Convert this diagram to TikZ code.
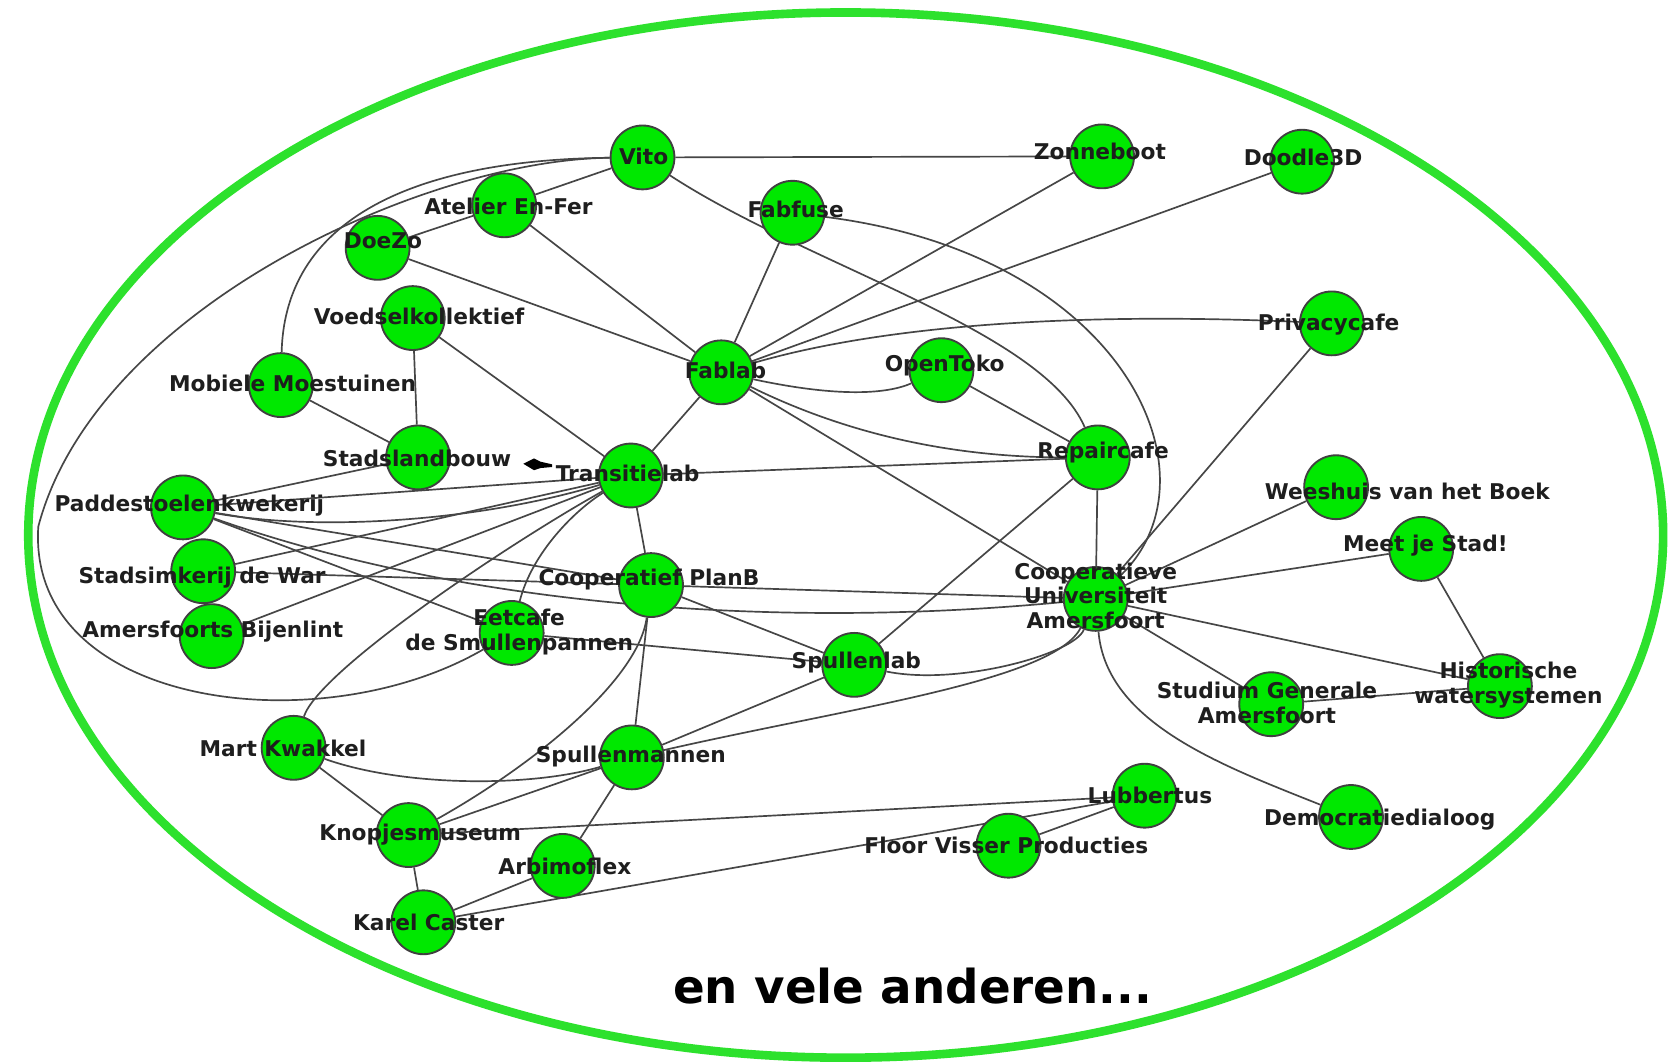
\documentclass[tikz,border=0pt]{standalone}
\usepackage{fontspec}
\setmainfont{DejaVu Sans}
\usetikzlibrary{arrows.meta}
\pgfdeclarelayer{bg}
\pgfsetlayers{bg,main}
\definecolor{nodegreen}{RGB}{0,232,0}
\definecolor{ringgreen}{RGB}{45,225,45}
\definecolor{edgegray}{RGB}{70,70,70}
\definecolor{txt}{RGB}{30,30,30}
\begin{document}
\begin{tikzpicture}[x=0.01cm,y=-0.01cm,
  org/.style={circle,draw=black!75,line width=0.5pt,fill=nodegreen,minimum size=0.6cm,inner sep=0pt},
  lbl/.style={font=\fontsize{5.8}{6.6}\selectfont\bfseries,text=txt,inner sep=0pt,align=center},
  link/.style={draw=edgegray,line width=0.45pt}]
\useasboundingbox (0,0) rectangle (1568,1000);

% nodes
\node[org] (vito) at (604,148) {};
\node[org] (zonne) at (1036,147) {};
\node[org] (doodle) at (1224,152) {};
\node[org] (atelier) at (474,193) {};
\node[org] (fabfuse) at (745,200) {};
\node[org] (doezo) at (355,233) {};
\node[org] (voedsel) at (388,299) {};
\node[org] (mobiele) at (264,362) {};
\node[org] (fablab) at (678,350) {};
\node[org] (opentoko) at (885,348) {};
\node[org] (privacy) at (1252,304) {};
\node[org] (stadsl) at (393,430) {};
\node[org] (transitie) at (593,447) {};
\node[org] (repair) at (1032,430) {};
\node[org] (weeshuis) at (1256,458) {};
\node[org] (padd) at (172,477) {};
\node[org] (meet) at (1336,516) {};
\node[org] (stadsimk) at (191,537) {};
\node[org] (planb) at (612,550) {};
\node[org] (cu) at (1030,563) {};
\node[org] (bijenlint) at (199,598) {};
\node[org] (eetcafe) at (481,595) {};
\node[org] (spullenlab) at (803,625) {};
\node[org] (histo) at (1410,645) {};
\node[org] (studium) at (1195,662) {};
\node[org] (mart) at (276,703) {};
\node[org] (spullenm) at (594,712) {};
\node[org] (lubbertus) at (1076,748) {};
\node[org] (democr) at (1270,768) {};
\node[org] (knopjes) at (384,785) {};
\node[org] (floor) at (948,795) {};
\node[org] (arbimo) at (529,814) {};
\node[org] (karel) at (398,867) {};

% edges
\begin{pgfonlayer}{bg}
\fill[white] (0,0) rectangle (1568,1000);
\draw[ringgreen,line width=2.3pt] (795,503) ellipse [x radius=7.68cm, y radius=4.91cm];
\draw[link] (vito) -- (zonne);
\draw[link] (vito) -- (atelier);
\draw[link] (doezo) -- (atelier);
\draw[link] (atelier) -- (fablab);
\draw[link] (doezo) -- (fablab);
\draw[link] (fabfuse) -- (fablab);
\draw[link] (zonne) -- (fablab);
\draw[link] (doodle) -- (fablab);
\draw[link] (fablab) -- (transitie);
\draw[link] (fablab) -- (cu);
\draw[link] (opentoko) -- (repair);
\draw[link] (voedsel) -- (stadsl);
\draw[link] (voedsel) -- (transitie);
\draw[link] (mobiele) -- (stadsl);
\draw[link] (stadsl) -- (padd);
\draw[link] (padd) -- (transitie);
\draw[link] (padd) -- (planb);
\draw[link] (padd) -- (eetcafe);
\draw[link] (stadsimk) -- (transitie);
\draw[link] (stadsimk) -- (cu);
\draw[link] (stadsimk) -- (bijenlint);
\draw[link] (bijenlint) -- (transitie);
\draw[link] (transitie) -- (repair);
\draw[link] (transitie) -- (planb);
\draw[link] (planb) -- (spullenlab);
\draw[link] (planb) -- (spullenm);
\draw[link] (eetcafe) -- (spullenlab);
\draw[link] (repair) -- (spullenlab);
\draw[link] (repair) -- (cu);
\draw[link] (privacy) -- (cu);
\draw[link] (weeshuis) -- (cu);
\draw[link] (meet) -- (cu);
\draw[link] (meet) -- (histo);
\draw[link] (cu) -- (histo);
\draw[link] (cu) -- (studium);
\draw[link] (studium) -- (histo);
\draw[link] (spullenlab) -- (spullenm);
\draw[link] (mart) -- (knopjes);
\draw[link] (knopjes) -- (spullenm);
\draw[link] (knopjes) -- (karel);
\draw[link] (knopjes) -- (lubbertus);
\draw[link] (spullenm) -- (arbimo);
\draw[link] (arbimo) -- (karel);
\draw[link] (karel) -- (lubbertus);
\draw[link] (floor) -- (lubbertus);
% curved edges
\coordinate (loopL) at (36,495);
\draw[link] (vito) .. controls (400,150) and (90,290) .. (loopL)
  .. controls (25,665) and (300,700) .. (eetcafe);
\draw[link] (mobiele) .. controls (268,200) and (400,150) .. (vito);
\draw[link] (mart) .. controls (300,630) and (480,510) .. (transitie);
\draw[link] (knopjes) .. controls (500,720) and (600,640) .. (planb);
\draw[link] (eetcafe) .. controls (500,520) and (540,480) .. (transitie);
\draw[link] (mart) .. controls (380,740) and (500,740) .. (spullenm);
\draw[link] (padd) .. controls (300,500) and (450,490) .. (transitie);
\draw[link] (padd) .. controls (450,575) and (750,590) .. (cu);
\draw[link] (fablab) .. controls (850,300) and (1050,295) .. (privacy);
\draw[link] (fablab) .. controls (780,372) and (830,372) .. (opentoko);
\draw[link] (fablab) .. controls (800,410) and (900,430) .. (repair);
\draw[link] (vito) .. controls (760,250) and (980,310) .. (repair);
\draw[link] (fabfuse) .. controls (1060,240) and (1150,450) .. (cu);
\draw[link] (spullenlab) .. controls (900,645) and (1010,615) .. (cu);
\draw[link] (spullenm) .. controls (800,665) and (990,640) .. (cu);
\draw[link] (cu) .. controls (1040,680) and (1150,720) .. (democr);
\end{pgfonlayer}

% small marker
\fill[black] (492,436) -- (502,431) -- (508,434) -- (519,436.5) -- (519,439) -- (508,440) -- (502,442) -- cycle;

% labels
\node[lbl] (tvito) at (605,147) {Vito};
\node[lbl] (tzonne) at (1034,142) {Zonneboot};
\node[lbl] (tdoodle) at (1225,148) {Doodle3D};
\node[lbl] (tatelier) at (478,194) {Atelier En-Fer};
\node[lbl] (tfabfuse) at (748,197) {Fabfuse};
\node[lbl] (tdoezo) at (360,226) {DoeZo};
\node[lbl] (tvoedsel) at (394,297) {Voedselkollektief};
\node[lbl] (tmobiele) at (275,360) {Mobiele Moestuinen};
\node[lbl] (tfablab) at (682,348) {Fablab};
\node[lbl] (topentoko) at (888,344) {OpenToko};
\node[lbl] (tprivacy) at (1249,305) {Privacycafe};
\node[lbl] (tstadsl) at (392,431) {Stadslandbouw};
\node[lbl] (ttransitie) at (590,445) {Transitielab};
\node[lbl] (trepair) at (1037,425) {Repaircafe};
\node[lbl] (tweeshuis) at (1323,462) {Weeshuis van het Boek};
\node[lbl] (tpadd) at (178,475) {Paddestoelenkwekerij};
\node[lbl] (tmeet) at (1340,513) {Meet je Stad!};
\node[lbl] (tstadsimk) at (190,543) {Stadsimkerij de War};
\node[lbl] (tplanb) at (610,545) {Cooperatief PlanB};
\node[lbl] (tcu) at (1030,560) {Cooperatieve\\Universiteit\\Amersfoort};
\node[lbl] (tbijenlint) at (200,594) {Amersfoorts Bijenlint};
\node[lbl] (teetcafe) at (488,594) {Eetcafe\\de Smullenpannen};
\node[lbl] (tspullenlab) at (805,623) {Spullenlab};
\node[lbl] (thisto) at (1418,644) {Historische\\watersystemen};
\node[lbl] (tstudium) at (1191,661) {Studium Generale\\Amersfoort};
\node[lbl] (tmart) at (266,704) {Mart Kwakkel};
\node[lbl] (tspullenm) at (593,711) {Spullenmannen};
\node[lbl] (tlubbertus) at (1081,748) {Lubbertus};
\node[lbl] (tdemocr) at (1297,770) {Democratiedialoog};
\node[lbl] (tknopjes) at (395,785) {Knopjesmuseum};
\node[lbl] (tfloor) at (946,795) {Floor Visser Producties};
\node[lbl] (tarbimo) at (531,814) {Arbimoflex};
\node[lbl] (tkarel) at (403,867) {Karel Caster};

\node[font=\fontsize{12.5}{14}\selectfont\bfseries,text=black,inner sep=0pt] (more) at (858,927) {en vele anderen...};
\end{tikzpicture}
\end{document}
